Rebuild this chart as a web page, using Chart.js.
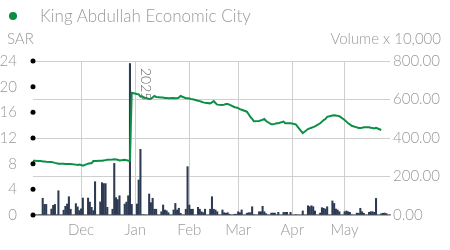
<!DOCTYPE html>
<html><head><meta charset="utf-8">
<script src="https://cdn.jsdelivr.net/npm/chart.js@4.4.1/dist/chart.umd.min.js"></script>
<style>
html,body{margin:0;padding:0;background:#fff;}
#wrap{position:relative;width:450px;height:250px;font-family:Lato,"Open Sans",sans-serif;font-weight:300;color:#999;}
#c{position:absolute;left:0;top:0;}
.t{position:absolute;white-space:nowrap;line-height:1;}
#dot{position:absolute;left:9px;top:12px;width:8px;height:8px;border-radius:50%;background:#0c8f45;}
</style></head>
<body>
<div id="wrap">
<canvas id="c" width="450" height="250"></canvas>
<div id="dot"></div>
<div class="t" style="left:40px;top:7px;font-size:17px;">King Abdullah Economic City</div>
<div class="t" style="left:7px;top:31px;font-size:15px;">SAR</div>
<div class="t" style="right:9px;top:31px;font-size:15px;">Volume x 10,000</div>
</div>
<script>
// day numbers counted from 31 Oct 2024 as plotted
const firstDay = 3, lastDay = 206;
const holidays = [150, 155, 156, 157];
const monthDays = [31, 62, 93, 121, 152, 182];
const monthLabels = ['Dec', 'Jan', 'Feb', 'Mar', 'Apr', 'May'];
const yearDay = 62, yearLabel = '2025';
const priceTicks = [0, 4, 8, 12, 16, 20, 24];

// volume (x 10,000) per trading day
const volumes = [
 0,0,
 0,0,87,55,55,
 31,50,55,0,126,
 25,45,57,95,30,
 59,42,23,32,88,
 88,67,40,23,173,
 68,168,163,163,40,
 30,268,90,80,100,
 57,67,100,787,55,
 57,182,341,0,0,
 109,64,87,30,30,
 17,52,26,22,12,
 26,60,26,35,9,
 30,251,52,30,30,
 40,30,17,12,30,
 30,95,30,26,17,
 26,12,9,12,4,
 4,4,17,12,26,
 9,12,12,43,0,
 17,17,45,17,7,
 10,10,10,0,14,
 14,14,14,14,
 0,21,
 48,43,48,43,21,
 10,38,35,31,43,
 73,60,31,26,17,
 17,21,17,14,0,
 10,9,35,17,9,
 14,17,17,14,86,
 7,9,10,7
];
// closing price (SAR) per trading day
const prices = [
 8.46,8.45,
 8.42,8.40,8.35,8.33,8.30,
 8.25,8.20,8.12,8.05,8.00,
 7.97,7.95,7.95,7.93,7.95,
 7.85,7.80,7.85,7.78,7.70,
 8.00,8.05,8.05,8.40,8.40,
 8.45,8.45,8.50,8.55,8.60,
 8.65,8.70,8.65,8.60,8.50,
 8.60,8.55,8.45,8.45,19.05,
 18.85,18.80,18.45,18.50,18.30,
 18.07,18.10,18.30,18.55,18.40,
 18.30,18.30,18.25,18.25,18.20,
 18.25,18.20,18.20,18.30,18.55,
 18.20,18.20,18.15,18.07,18.05,
 17.80,17.75,17.65,17.55,17.50,
 17.40,17.55,17.75,17.45,17.20,
 17.15,17.20,17.30,17.30,17.20,
 16.80,16.75,16.65,16.50,16.40,
 16.10,15.70,15.30,15.00,14.60,
 14.65,14.75,14.85,14.96,14.65,
 14.13,14.15,14.20,14.30,14.30,
 14.55,14.30,14.30,14.30,
 14.13,12.75,
 13.40,13.50,13.60,13.70,13.80,
 14.30,14.55,14.80,14.96,15.30,
 15.50,15.55,15.50,15.45,15.40,
 14.80,14.55,14.30,14.13,13.90,
 13.66,13.56,13.56,13.60,13.66,
 13.66,13.60,13.56,13.50,13.60,
 13.25,null,null,null
];

const tradingDays = [];
for (let d = firstDay; d <= lastDay; d++) {
  if (d % 7 < 5 && !holidays.includes(d)) tradingDays.push(d);
}

const FONT = {family: 'Lato, "Open Sans", sans-serif', size: 15, weight: '300'};

const decor = {
  id: 'decor',
  afterDraw(chart) {
    const ctx = chart.ctx, y = chart.scales.y, x = chart.scales.x, a = chart.chartArea;
    ctx.save();
    ctx.fillStyle = '#000';
    priceTicks.forEach(v => {
      ctx.beginPath();
      ctx.arc(a.left, y.getPixelForValue(v), 2.5, 0, Math.PI * 2);
      ctx.fill();
    });
    const px = x.getPixelForValue(yearDay);
    ctx.translate(px + 6, a.top + 7);
    ctx.rotate(Math.PI / 2);
    ctx.fillStyle = '#666';
    ctx.font = '300 14px Lato, "Open Sans", sans-serif';
    ctx.textBaseline = 'alphabetic';
    ctx.fillText(yearLabel, 0, 0);
    ctx.restore();
  }
};

new Chart(document.getElementById('c'), {
  type: 'bar',
  data: {
    datasets: [
      {
        type: 'line',
        label: 'King Abdullah Economic City',
        data: tradingDays.map((d, i) => ({x: d, y: prices[i]})),
        yAxisID: 'y',
        borderColor: '#0c8f45',
        borderWidth: 2,
        pointRadius: 0,
        tension: 0,
        spanGaps: false,
        order: 0
      },
      {
        type: 'bar',
        label: 'Volume',
        data: tradingDays.map((d, i) => ({x: d, y: volumes[i]})),
        yAxisID: 'y1',
        backgroundColor: '#2c3a52',
        barThickness: 1.4,
        order: 1
      }
    ]
  },
  options: {
    responsive: false,
    animation: false,
    devicePixelRatio: 1,
    layout: {padding: {top: 61, left: 0, right: 0, bottom: 0}},
    plugins: {legend: {display: false}, tooltip: {enabled: false}},
    scales: {
      x: {
        type: 'linear',
        offset: false,
        min: 3.44,
        max: 208,
        afterBuildTicks(s) { s.ticks = monthDays.map(v => ({value: v})); },
        afterFit(s) { s.height = 35; },
        ticks: {
          autoSkip: false, maxRotation: 0, color: '#999', font: FONT, padding: 6,
          callback(v) { const i = monthDays.indexOf(v); return i >= 0 ? monthLabels[i] : ''; }
        },
        grid: {color: '#cfcfcf', drawTicks: false, lineWidth: 1, offset: false},
        border: {color: '#888', width: 1.5}
      },
      y: {
        position: 'left',
        min: 0, max: 24,
        afterBuildTicks(s) { s.ticks = priceTicks.map(v => ({value: v})); },
        afterFit(s) { s.width = 33; },
        ticks: {color: '#999', font: FONT, padding: 8},
        grid: {display: false},
        border: {display: false}
      },
      y1: {
        position: 'right',
        min: 0, max: 800,
        ticks: {stepSize: 200, color: '#999', font: FONT, padding: 3, callback: v => v.toFixed(2)},
        afterFit(s) { s.width = 60; },
        grid: {color: '#cfcfcf', drawTicks: false},
        border: {display: false}
      }
    }
  },
  plugins: [decor]
});
</script>
</body></html>
